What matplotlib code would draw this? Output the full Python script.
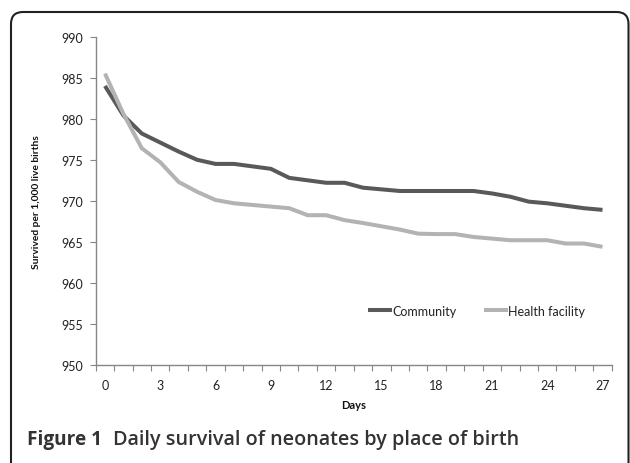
import numpy as np
import matplotlib
matplotlib.use("Agg")
import matplotlib.pyplot as plt
from matplotlib.patches import FancyBboxPatch

# data
days = list(range(28))
community = [984.0, 980.4, 978.2, 977.1, 976.0, 975.0, 974.5, 974.5, 974.2, 973.9,
             972.8, 972.5, 972.2, 972.2, 971.6, 971.4, 971.2, 971.2, 971.2, 971.2,
             971.2, 970.9, 970.5, 969.9, 969.7, 969.4, 969.1, 968.9]
health_facility = [985.5, 980.6, 976.4, 974.7, 972.3, 971.1, 970.1, 969.7, 969.5, 969.3,
                   969.1, 968.25, 968.25, 967.65, 967.3, 966.9, 966.5, 966.0, 965.95, 965.95,
                   965.6, 965.4, 965.2, 965.2, 965.2, 964.8, 964.8, 964.4]
xlabels = ['0', '3', '6', '9', '12', '15', '18', '21', '24', '27']
yticks = [950, 955, 960, 965, 970, 975, 980, 985, 990]

plt.rcParams['font.family'] = ['Lato', 'DejaVu Sans']

fig = plt.figure(figsize=(6.3, 4.64), dpi=100)
ax = fig.add_axes([0.152, 0.2112, 0.819, 0.7076])

ax.plot(days, community, color='#595959', lw=2.9, label='Community', solid_capstyle='butt')
ax.plot(days, health_facility, color='#b3b3b3', lw=2.9, label='Health facility', solid_capstyle='butt')

ax.set_xlim(-0.5, 27.5)
ax.set_ylim(950, 990)

# category style ticks between days, labels every 3 days
ax.set_xticks(np.arange(-0.5, 28, 1))
ax.set_xticklabels([])
ax.tick_params(axis='x', which='major', length=4, color='#868686', direction='out')
ax.set_xticks([int(s) for s in xlabels], minor=True)
ax.set_xticklabels(xlabels, minor=True)
ax.tick_params(axis='x', which='minor', length=0, pad=10, labelsize=9, labelcolor='#222222')

ax.set_yticks(yticks)
ax.tick_params(axis='y', length=4, color='#868686', direction='out', pad=5,
               labelsize=9, labelcolor='#222222')

for s in ['top', 'right']:
    ax.spines[s].set_visible(False)
for s in ['left', 'bottom']:
    ax.spines[s].set_color('#868686')
    ax.spines[s].set_linewidth(1)

ax.set_xlabel('Days', fontsize=8, fontweight='bold', labelpad=6, color='#111111')
ax.set_ylabel('Survived per 1,000 live births', fontsize=7.4, fontweight='bold',
              labelpad=15, color='#111111')

ax.legend(loc='center', bbox_to_anchor=(0.738, 0.165), ncol=2, frameon=False,
          fontsize=9, handlelength=1.9, handletextpad=0.05, columnspacing=2.2,
          labelcolor='#222222')

# rounded frame round the figure
frame = FancyBboxPatch((11, -30), 617.5, 481, boxstyle='round,pad=0,rounding_size=12',
                       transform=None, fill=False, edgecolor='#222222', lw=1.5)
fig.patches.append(frame)

fig.text(27 / 630, 1 - 440 / 464, 'Figure 1', fontsize=13.7, fontweight='bold',
         family=['Open Sans', 'DejaVu Sans'], color='#333333', va='center')
fig.text(113 / 630, 1 - 440 / 464, 'Daily survival of neonates by place of birth',
         fontsize=14.2, fontweight='semibold', family=['Open Sans', 'DejaVu Sans'],
         color='#333333', va='center')

fig.savefig('out.png', dpi=100)
